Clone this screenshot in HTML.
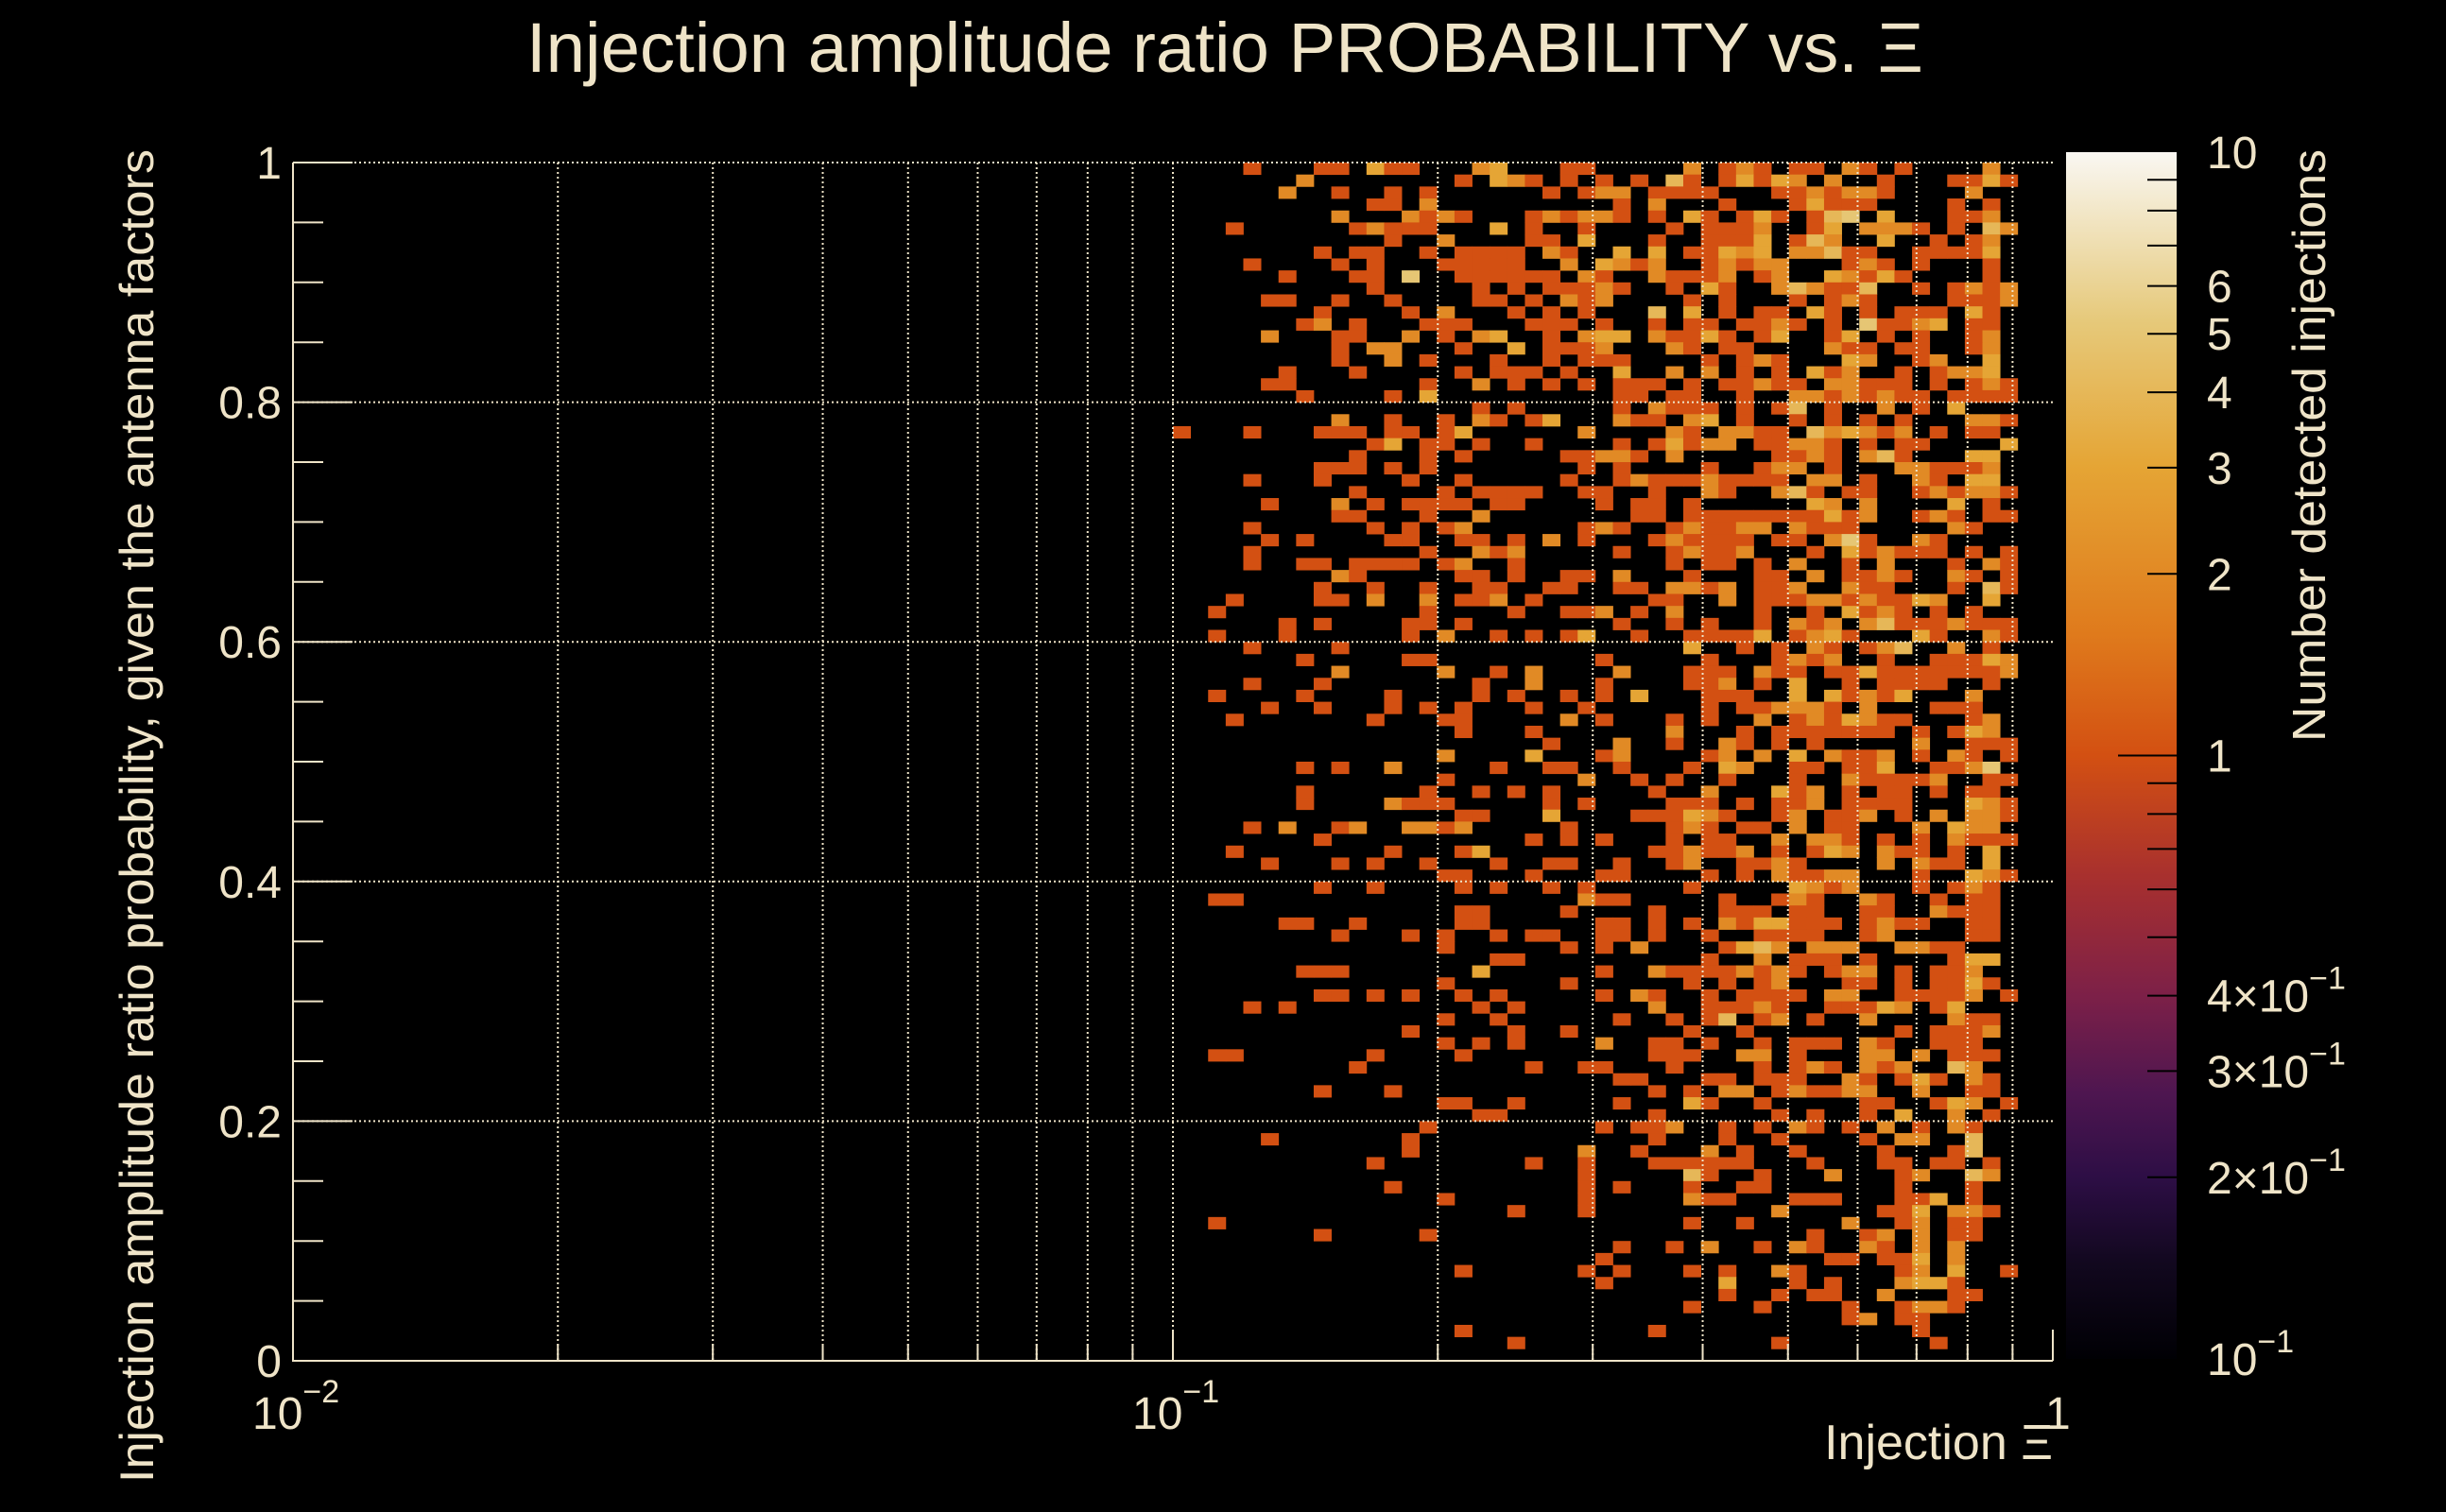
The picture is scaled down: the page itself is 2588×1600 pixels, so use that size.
<!DOCTYPE html>
<html><head><meta charset="utf-8"><title>Injection amplitude ratio PROBABILITY vs. Ξ</title>
<style>
html,body{margin:0;padding:0;background:#000;}
svg{display:block;}
text{font-family:"Liberation Sans",sans-serif;fill:#efe4c8;}
</style></head>
<body>
<svg id="chart" width="2588" height="1600" viewBox="0 0 2588 1600" xmlns="http://www.w3.org/2000/svg">
<rect x="0" y="0" width="2588" height="1600" fill="#000"/>
<defs>
<linearGradient id="cbGrad" x1="0" y1="1" x2="0" y2="0">
<stop offset="0" stop-color="#000004"/>
<stop offset="0.08" stop-color="#12081f"/>
<stop offset="0.15" stop-color="#2d0e45"/>
<stop offset="0.22" stop-color="#4e1650"/>
<stop offset="0.3" stop-color="#7c2048"/>
<stop offset="0.4" stop-color="#a8302e"/>
<stop offset="0.5" stop-color="#d35012"/>
<stop offset="0.6" stop-color="#df7a1c"/>
<stop offset="0.74" stop-color="#e5a535"/>
<stop offset="0.86" stop-color="#e6c97a"/>
<stop offset="1" stop-color="#f9f7f2"/>
</linearGradient>
</defs>
<g id="cells"></g>
<g id="grid"></g>
<g id="axes"></g>
<g id="colorbar"></g>
<text x="557" y="76" font-size="74" textLength="1478" lengthAdjust="spacingAndGlyphs">Injection amplitude ratio PROBABILITY vs.  Ξ</text>
<text transform="translate(162,158) rotate(-90)" text-anchor="end" font-size="50" textLength="1411" lengthAdjust="spacingAndGlyphs">Injection amplitude ratio probability, given the antenna factors</text>
<text x="2172" y="1544" text-anchor="end" font-size="52">Injection Ξ</text>
<text transform="translate(2460,158) rotate(-90)" text-anchor="end" font-size="49" textLength="627" lengthAdjust="spacingAndGlyphs">Number detected injections</text>
</svg>
<script>
// ---- data ----
const xMin = 0.01, xMax = 1, xBinsPerDecade = 50, nYBins = 100;
const zMin = 0.1, zMax = 10;
const yTickValues = [0, 0.2, 0.4, 0.6, 0.8, 1];
const yTickLabels = ["0", "0.2", "0.4", "0.6", "0.8", "1"];
const xDecadeValues = [0.01, 0.1, 1];
const xDecadeLabels = [["10","−2"], ["10","−1"], ["1",""]];
const zTickValues = [0.1, 0.2, 0.3, 0.4, 1, 2, 3, 4, 5, 6, 10];
const zTickLabels = [["10","−1"],["2×10","−1"],["3×10","−1"],["4×10","−1"],["1",""],["2",""],["3",""],["4",""],["5",""],["6",""],["10",""]];
// rows from top (y bin 99) to bottom (y bin 0); tokens "xbin[:count]"
const cellRows = [
"54 58 59 61:3 62 63 67:2 68:3 72 73 79:2 81 82:2 83 85 86 88:2 89 91 96:2",
"57:2 66 68:3 69:2 70 72 74 76 78:4 79 81 82:3 83 84:3 85:2 87:2 90 94 95 96:3 97",
"56:2 59 62 64 71 73 74:2 75:2 77 78 79 80 84 85 86:2 87 88:2 89:2 90 95:2",
"61 62 64:2 75 77:2 81 85 86:3 87 88 89 94 96",
"59:2 63:2 64 65:2 66 70 71:2 72 73:2 74:2 75 77 79:3 80 82 83:3 84 86 87:4 88:5 90:3 94 95 96:2",
"53 60 61:2 62 63 64 68:3 70 73 78 80 81 82 83:2 86 87:3 89:2 90:2 91:2 92 94 96:4 97:2",
"62 65:2 70 71 73:3 77 80 81 82 83:3 85 86:4 87:2 90:3 93 95 96:2",
"58 60 61 64 66 67 68 69 71:2 72 75:3 77:3 79 80 81:3 82:2 83:3 85:2 86:2 87:4 88 89 92 93 94 95 96:3",
"54 59 61 65 66 67 68 69 72:2 74:3 75:2 76 77:2 80 81:2 82 83:2 84:2 88 89:2 90 92 96",
"56 60 61 63:5 66 67 68 69 70 71 73:2 74 77:2 78 79 80 81:2 83 84:2 87:3 88:2 89 90:3 91 96",
"61 67 69 71 72 73 74:2 75 78 80:3 81 84:2 85:4 86:2 87 88 89:4 92 94 95:2 96 97:2",
"55 56 59 62 67 68 70 72:2 73 74:2 79 81 85 87 88:2 89 94 95 96 97:2",
"58 63 65:2 69 71 73 77:4 79:3 81 83 84 86:3 87 89 91 92 93 95:3 96",
"57 58:2 60 64 65 66 70 71 72 74 77 79 80 82 83 84:2 85 87 89:5 90 91 92:2 93:3 95 96",
"55:2 59 60 63:2 65 67:2 68:3 71 73:2 74:3 75:3 77:2 78 79 80:3 81 83 84:3 87 88:3 90 92 95 96:2",
"59 61:2 62:2 66 69:3 71 72 73 74:2 78:2 79 81 82 87:2 88 89 91 92 95 96:2",
"59 62:2 64 68 71 73 74 75 80 82 83:2 84 88:3 89:2 92 93:2 96:3",
"56 60 66 68 69 70 72 75:3 78:2 80:2 82 84 86:3 87 88:2 91 93 94:2 95:2 96:3",
"55 56 64 67:2 69 71 73 75 76 77 79 81 82 83:2 84 85 87:2 88:2 89 90 91 93 95 96:2 97",
"57 62 64:3 75 76 78 79 82 85:2 86:2 87 88:2 89 90:2 91 92 94 95 96 97",
"67 69 75 77:2 78 79 80 82 84 85:4 87 90:2 92 94:3",
"59:2 62 65 67:2 68 70 71:3 75:2 76 77 79:2 80:3 82 85 87 89 91 95:2 96:2 97",
"50 54 58 59 60 62 63 65 66:3 73:2 78:2 79 81:2 82:2 83 84 86:4 87:2 88:3 89:2 90 91:2 93 95 96",
"61 62:3 64 65 67 70 75 77 78:3 79 80:2 81:2 83 84 85:2 86:2 87 89 91 92 97:3",
"60 64 66 72 73 74:2 75:2 76 78:2 84 85 86:2 87 89:2 90:4 91 95:3 96:3",
"58 59 60 62 64 73 75 80 83 84:2 85:2 87 91:2 92:2 93 94 95 96:2",
"54 58 63 66 72 75 76:2 77 78 79 80:2 81 82 83 84 86:2 87:2 89 92:2 93 95:3 96:3",
"60 65 67 68 69 70 73 74 77 80:2 81 84:2 85:4 86 88 89 92 93:2 94 95:2 96:2 97",
"55 59:2 61 63 64 65 66 68 69 74 76 77 79 86:3 87:2 89:2 94:3 96",
"59 60 64 67:2 76 77 79 80 81 82 83 84 85 86 87:3 88 89:2 92 93:2 94 96 97",
"54 61 63 65 66:2 73 74:2 75 78 79:2 80 81 82:2 83:2 85:2 86 87 88 94:2 95",
"55 57 62 63 66 67 69 71:2 73 77 78:2 79 80 81 82 84 85 87:2 88:5 89 92:2 93",
"54 64 67:2 68 69:2 75 78 79:2 80 81 82:2 86 88:3 89 90:2 91 92 93 95 97",
"54 57 58 60 61 62 63 65 66:2 69 78 80 81 83 85:2 88 90:2 94 96:2 97",
"59:2 60 66 67 69 72 73 75:2 79 83 84 86:2 88 89 90:2 91 94:2 95 97",
"58 61 64 67 68 71 72 75 76 78:2 79:2 80 81:2 83 84 85:2 88:2 89 90 94 96:4 97",
"53 58 59 61:2 64:2 66 67 68:2 70 77 78 81:2 83 84 85 86:2 87:2 88 89:2 90 91 92:3 93:2 96:3",
"52 64 69 72 73 74:2 76 78:2 83 86 88:3 89 90:2 91 93 95",
"56 58 63 64 66 75 78 80 83 85:2 86 87:2 89:2 90:4 91 92 93 94:2 95 96 97",
"52 56 63 65:2 68 70 72 73:3 76 79 80 81 82 83:3 85 86:2 87:3 88 92:3 93 96:2 97",
"54 59 79:3 82 84 86:2 87 89 90:2 91:4 94:2 96",
"57 63 64 74 80 84 85:2 86 87:2 90 93 94 95 96:3 97:2",
"59:2 65:2 68 70:2 75:2 79 80 81 83:2 84 85 87 88 89:3 90 91 92 93 94 95 96 97:2",
"54 58 67 70:2 74 79 80 81:2 83 85:3 88 90 91 92 93 96",
"52 57 62 67 69 72 74 76:3 80 81 82 85:3 87:3 88 89:2 90 91:3 95:2",
"55 58 62 64 66 70 73 80 82 83 84:2 85:2 86:2 87 89:2 93 94 95",
"53 61 65 66 72:2 74 78 80 83:2 85 86:2 87 88:3 89:2 90 91 95 96:2",
"66 70 78:2 82 84 85 86 87 88 89 90 92 94 95:3 96:2",
"71 75:2 78 81:2 82 84 86 92:2 95 96 97",
"65:2 70:3 74 75:2 80 81:2 83:2 85:3 87:2 88 89 90:2 92 94:2 95 97",
"57 59 62:2 68 71 72 75 79 81:3 82:2 85 86 88 89 90:3 93 94 95:2 96:5",
"65 73:2 76 78 81 85 88:2 89 90 91 92 93:2 96 97",
"57 64 67 69 71 77 80:2 84:3 85 86:2 88 90 91 93 95 96",
"57 62:2 63 64 65 71 73 78 79 80 82 84 85 86:2 88 89 90 91 95:3 96:2 97",
"66 67 71:3 76 77 78 79:3 80:2 81 84 85:2 87 88 89:2 91 93:2 95:2 96:2 97",
"54 56:2 59 60:2 63:2 64:2 65 66:2 72 78 79:2 80 82 83 85:2 87 88 92:2 94:3 95:2 96:2",
"58 70 72 74 78 80 81 84:2 86:2 87:2 88 90 92 94:2 95 96 97",
"53 62 66 67:3 77 78 79:2 80 81 82:2 84 86 87:3 88:2 90:2 91 92 94 96:3",
"55 59 61 64 68 71 72 75 78 79:2 82 83 84:2 85 90:2 92:2 93 94 96:3",
"65 66 70 74 75 80 82 84:2 85 86 87:2 88:2 92 95:3 96:2 97",
"58 61 66 68 71 73 79 85:3 86:2 87 88:2 92 94 95:2 96",
"52 53 73:2 74 75 81 84 85:2 86 89:2 90 93 95 96",
"66 67 72 77 81 82 83 85 86 89 90 93:2 94 95 96",
"56 57 60 66 67 74 75 77 79 81:2 82 83:3 84:3 85 86 87 89 90:2 91 92 95 96",
"59 63 65 68 70 71 74 75 77 80 83 84 85 86 89 90:2 95 96",
"65 72 74 76:2 81 82:3 83:4 84:2 86:2 87:2 88:2 91:2 92:2 93 94",
"68 69 80 83:2 85 86 87 89 94 95:3 96:3",
"57 58 59 67:3 74 77:2 78 79 80 81 82:2 83 84:2 85 87 88:2 89:2 91 93 94 95:2",
"65 72 79 81 83 84:2 88 89 91 93 94 95:3 96",
"58 59 61 63 66 68 74 76:2 77 80 82 83 84 85 87:2 88:2 91 92 93 94 95:2 97",
"54 56 67 69 77:2 80 81 82 83:2 84 87 88 89 90:3 91:2 93 94:3",
"65 68 75 78 80 81:4 83 84:2 86 89:2 94:2 95 96",
"63 69 72 79 82 91 93 94 95 96:2",
"65 67 69 74:2 77 78 80 83 85 86 87 89:2 90 93 94 95",
"52 53 61 66 77 78 79 82:2 83:2 85 89:2 90:2 92:2 94 95 96",
"60 70 73 74 78 83 85 86:2 87 89:2 90 91:2 94:4 95:2",
"75 76 80 81 83 84 85 88:2 89 91 92:3 93 95:2 96",
"58 62 77 79 81:2 82:2 84 85:2 86 87 88:2 89:2 92:2 95 96",
"65 66 69 75 79:3 80 83 89 90 93 94:3 95:2 97",
"67 68 77 84 86 89 91:3 94:2 96",
"64 74 76 77 78:2 81 83 85:2 86 88 90:2 92 94:2 95",
"55 63 77 81 84 89 91:2 92:2 95:4",
"63 73:2 76 80:2 82 85 90 94 95:4",
"61 70 73 77 78 79 80 81 82 86 90 91 93 94 96",
"73 79:4 80 83 87:2 91 92:2 95:4 96:2",
"62 73 75 79 82 83 91 95",
"65 73 79:2 80 81 85 86 87 91 92 93:3 95",
"69 73 84:2 90 91 92:3 94:2 95:2 96",
"52 79 82 88:2 91 92:2 94 95",
"58 64 86 89 90:2 92:2 94 95",
"75 78 80:2 83 85:2 86 89:2 90 92:2 94:2",
"74 87 88 90 91 92:3 94:2",
"66 73 75 79 81 84:2 85 91 92:2 94:3 97",
"74 81:3 85 87 91:2 92:3 93:3 94",
"81 84 86 87 90:2 94 95",
"79 83 88 91 92:2 93:2 94",
"88 89:2 91 92",
"66 77 92",
"69 84 93",
""
];
// ---- layout ----
const P = {left:310, right:2172, top:172, bottom:1440};
const CB = {left:2186, right:2303, top:161, bottom:1438};
const NS = "http://www.w3.org/2000/svg";
function xScale(v){ return P.left + (Math.log10(v) - Math.log10(xMin)) / (Math.log10(xMax) - Math.log10(xMin)) * (P.right - P.left); }
function yScale(v){ return P.bottom - v * (P.bottom - P.top); }
function zScale(v){ return CB.bottom - (Math.log10(v) - Math.log10(zMin)) / (Math.log10(zMax) - Math.log10(zMin)) * (CB.bottom - CB.top); }
const cStops = [[0,[0,0,4]],[0.08,[18,8,31]],[0.15,[45,14,69]],[0.22,[78,22,80]],[0.3,[124,32,72]],[0.4,[168,48,46]],[0.5,[211,80,18]],[0.6,[223,122,28]],[0.74,[229,165,53]],[0.86,[230,201,122]],[1,[249,247,242]]];
function colorFor(v){
  let f = (Math.log10(v) - Math.log10(zMin)) / (Math.log10(zMax) - Math.log10(zMin));
  f = Math.max(0, Math.min(1, f));
  for (let i = 1; i < cStops.length; i++) {
    if (f <= cStops[i][0]) {
      const a = cStops[i-1], b = cStops[i], t = (f - a[0]) / (b[0] - a[0]);
      const c = a[1].map((x, k) => Math.round(x + (b[1][k] - x) * t));
      return "rgb(" + c.join(",") + ")";
    }
  }
  return "rgb(249,247,242)";
}
function mk(tag, attrs, parent){
  const e = document.createElementNS(NS, tag);
  for (const k in attrs) e.setAttribute(k, attrs[k]);
  parent.appendChild(e);
  return e;
}
// ---- cells ----
const gCells = document.getElementById('cells');
cellRows.forEach((row, i) => {
  const yBin = nYBins - 1 - i;
  row.split(' ').filter(s => s).forEach(tok => {
    const parts = tok.split(':');
    const bin = parseInt(parts[0], 10);
    const cnt = parts.length > 1 ? parseInt(parts[1], 10) : 1;
    const x0 = xScale(xMin * Math.pow(10, bin / xBinsPerDecade));
    const x1 = xScale(xMin * Math.pow(10, (bin + 1) / xBinsPerDecade));
    const y0 = yScale((yBin + 1) / nYBins), y1 = yScale(yBin / nYBins);
    const r = mk('rect', {x: x0.toFixed(2), y: y0.toFixed(2), width: (x1 - x0 + 0.4).toFixed(2), height: (y1 - y0 + 0.4).toFixed(2), fill: colorFor(cnt)}, gCells);
    
    
  });
});
// ---- grid ----
const gGrid = document.getElementById('grid');
const gridX = [];
for (let d = 0.01; d < 1; d *= 10) for (let m = 1; m <= 9; m++) { if (!(d === 0.01 && m === 1)) gridX.push(d * m); }
gridX.forEach(v => {
  const x = xScale(v);
  const l = mk('line', {x1: x, x2: x, y1: P.top, y2: P.bottom, stroke: '#efe4c8', 'stroke-width': 2, 'stroke-dasharray': '2 3'}, gGrid);
  
  
});
yTickValues.slice(1).forEach(v => {
  const y = yScale(v);
  const l = mk('line', {x1: P.left, x2: P.right, y1: y, y2: y, stroke: '#efe4c8', 'stroke-width': 2, 'stroke-dasharray': '2 3'}, gGrid);
  
  
});
// ---- axes ----
const gAx = document.getElementById('axes');
const frame = mk('path', {d: `M${P.left},${P.top} V${P.bottom} H${P.right}`, fill: 'none', stroke: '#efe4c8', 'stroke-width': 2}, gAx);


for (let k = 0; k <= 20; k++) {
  const v = k * 0.05, y = yScale(v), major = (k % 4 === 0);
  const t = mk('line', {x1: P.left, x2: P.left + (major ? 63 : 32), y1: y, y2: y, stroke: '#efe4c8', 'stroke-width': 2}, gAx);
  
  
}
yTickValues.forEach((v, i) => {
  const t = mk('text', {x: 298, y: yScale(v) + 17, 'text-anchor': 'end', 'font-size': 48}, gAx);
  t.textContent = yTickLabels[i];
  
  
});
gridX.concat(xDecadeValues).forEach(v => {
  const x = xScale(v), major = xDecadeValues.indexOf(v) >= 0;
  const t = mk('line', {x1: x, x2: x, y1: P.bottom, y2: P.bottom - (major ? 33 : 18), stroke: '#efe4c8', 'stroke-width': 2}, gAx);
  
  
});
xDecadeValues.forEach((v, i) => {
  const x = xScale(v);
  const t = mk('text', {x: x - (xDecadeLabels[i][1] ? 43 : 8), y: 1512, 'font-size': 48}, gAx);
  t.textContent = xDecadeLabels[i][0];
  if (xDecadeLabels[i][1]) {
    const s = mk('tspan', {dy: -28, 'font-size': 34}, t);
    s.textContent = xDecadeLabels[i][1];
  }
  
  
});
// ---- colorbar ----
const gCb = document.getElementById('colorbar');
const cbr = mk('rect', {x: CB.left, y: CB.top, width: CB.right - CB.left, height: CB.bottom - CB.top, fill: 'url(#cbGrad)'}, gCb);


const cbMinor = [0.2,0.3,0.4,0.5,0.6,0.7,0.8,0.9,1,2,3,4,5,6,7,8,9];
cbMinor.forEach(v => {
  const y = zScale(v);
  const t = mk('line', {x1: CB.right, x2: CB.right - (v === 1 ? 62 : 31), y1: y, y2: y, stroke: '#000', 'stroke-width': 2}, gCb);
  
  
});
zTickValues.forEach((v, i) => {
  const t = mk('text', {x: 2335, y: zScale(v) + 17, 'font-size': 48}, gCb);
  t.textContent = zTickLabels[i][0];
  if (zTickLabels[i][1]) {
    const s = mk('tspan', {dy: -24, 'font-size': 34}, t);
    s.textContent = zTickLabels[i][1];
  }
  
  
});
</script>
</body></html>
